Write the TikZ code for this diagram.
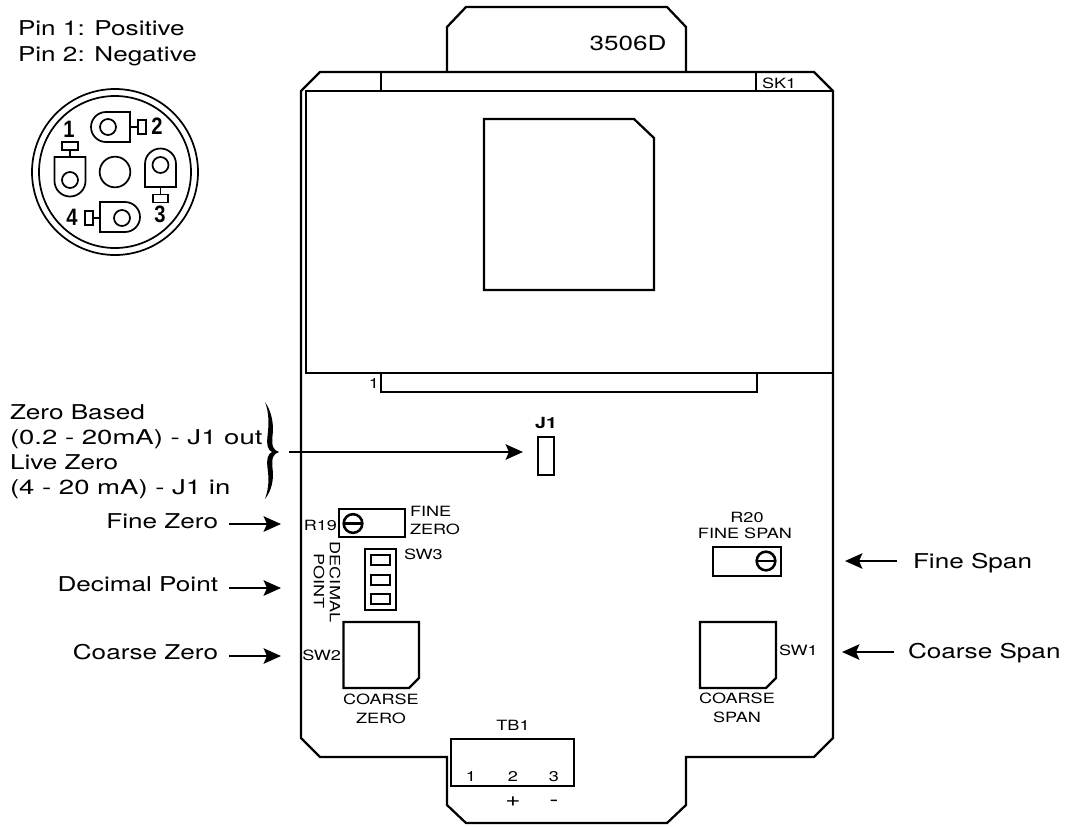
\documentclass[tikz,border=0pt]{standalone}
\usepackage{fontspec}
\setmainfont[FakeStretch=1.28]{TeX Gyre Heros}
\newfontfamily\pinfont[FakeStretch=0.85]{Liberation Sans}
\newfontfamily\widefont[FakeStretch=1.35]{TeX Gyre Heros}
\usetikzlibrary{arrows.meta}
\tikzset{
 every node/.style={inner sep=0pt,outer sep=0pt},
 line/.style={draw=black,line width=1.7pt,line join=miter},
 thick line/.style={draw=black,line width=2pt,line join=miter},
 thin line/.style={draw=black,line width=1.3pt},
 big/.style={font=\fontsize{15.3pt}{17pt}\selectfont},
 wide/.style={font=\widefont\fontsize{15.3pt}{17pt}\selectfont},
 small/.style={font=\fontsize{10.6pt}{12pt}\selectfont},
 pinno/.style={font=\pinfont\fontsize{17.8pt}{18pt}\bfseries\selectfont},
 pointer/.style={draw=black,line width=1.8pt,-{Stealth[length=13pt,width=11.5pt,inset=2.5pt]}},
}
\begin{document}
\begin{tikzpicture}[x=0.75pt,y=-0.75pt]
\useasboundingbox (0,0) rectangle (1066,826);
% tab and board
\draw[line] (447,72) -- (447,27) -- (466,7) -- (667,7) -- (686,27) -- (686,72);
\draw[line] (301,91) -- (320,72) -- (814,72) -- (833,91) -- (833,738) -- (814,757) -- (686,757) -- (686,805) -- (667,823) -- (466,823) -- (447,805) -- (447,757) -- (320,757) -- (301,738) -- cycle;
\draw[thick line] (306,91) rectangle (833,373);
\draw[thick line] (381,72) rectangle (756,91);
\draw[line] (381,373) -- (381,392) -- (757,392) -- (757,373);
\draw[line] (484,119) -- (634,119) -- (654,138) -- (654,290) -- (484,290) -- cycle;
\node[small,anchor=base west] (sk1) at (762,88.5) {SK1};
\node[small,anchor=base] (one) at (374,388) {1};
\node[big,anchor=base] (model) at (628,50) {3506D};
% J1
\node[draw=black,line width=1.7pt,minimum width=12pt,minimum height=28.5pt] (j1) at (546,456) {};
\node[font=\fontsize{11.5pt}{12pt}\bfseries\selectfont,anchor=base] (j1l) at (546,428) {J1};
% R19
\node[draw=black,line width=1.7pt,minimum width=49.5pt,minimum height=21pt] (r19) at (372,523) {};
\node[draw=black,line width=1.9pt,circle,minimum size=14pt] (r19c) at (353,523.5) {};
\draw[line] (r19c.west) -- (r19c.east);
\node[small,anchor=base east] (r19l) at (337,530) {R19};
\node[small,anchor=base west] (fz1) at (410,516) {FINE};
\node[small,anchor=base west] (fz2) at (410,534) {ZERO};
% SW3
\node[draw=black,line width=1.7pt,minimum width=23pt,minimum height=45.5pt] (sw3) at (380.5,579.5) {};
\node[draw=black,line width=1.5pt,minimum width=14pt,minimum height=7.5pt] (s3a) at (380.5,560) {};
\node[draw=black,line width=1.5pt,minimum width=14pt,minimum height=7.5pt] (s3b) at (380.5,579.5) {};
\node[draw=black,line width=1.5pt,minimum width=14pt,minimum height=7.5pt] (s3c) at (380.5,599) {};
\node[small,anchor=base west] (sw3l) at (404,559) {SW3};
\node[small,rotate=-90,anchor=center] (dec1) at (335,582) {DECIMAL};
\node[small,rotate=-90,anchor=center] (dec2) at (319,581) {POINT};
% SW2 SW1
\draw[line] (343.5,622) -- (419,622) -- (419,678) -- (409,688) -- (343.5,688) -- cycle;
\draw[line] (700,622) -- (776,622) -- (776,678) -- (766,688) -- (700,688) -- cycle;
\node[small,anchor=base east] (sw2l) at (341,660) {SW2};
\node[small,anchor=base west] (sw1l) at (779,655) {SW1};
\node[small,anchor=base] (cz1) at (381,704) {COARSE};
\node[small,anchor=base] (cz2) at (381,723) {ZERO};
\node[small,anchor=base] (cs1) at (737,703) {COARSE};
\node[small,anchor=base] (cs2) at (737,722) {SPAN};
% TB1
\node[draw=black,line width=1.7pt,fill=white,minimum width=92pt,minimum height=35pt] (tb1) at (512.5,762.5) {};
\node[small,anchor=base] (tbl) at (513,730) {TB1};
\node[small,anchor=base] (t1) at (471,781) {1};
\node[small,anchor=base] (t2) at (513,781) {2};
\node[small,anchor=base] (t3) at (554,781) {3};
\node[big,anchor=base] (plus) at (513,806) {+};
\node[big,anchor=base] (minus) at (554,806) {-};
% R20
\node[draw=black,line width=1.7pt,minimum width=51pt,minimum height=21.5pt] (r20) at (747,561.5) {};
\node[draw=black,line width=1.9pt,circle,minimum size=14pt] (r20c) at (766,561) {};
\draw[line] (r20c.west) -- (r20c.east);
\node[small,anchor=base] (r20l) at (747,522.5) {R20};
\node[small,anchor=base] (fs) at (745,538.5) {FINE SPAN};
% connector
\node[draw=black,line width=1.3pt,circle,minimum size=124.5pt] (c1) at (115,172) {};
\node[draw=black,line width=1.3pt,circle,minimum size=114pt] (c2) at (115,172) {};
\node[draw=black,line width=1.3pt,circle,minimum size=23pt] (c3) at (115,172) {};
% pin 2
\draw[thin line] (130,112) -- (106,112) arc[start angle=270,end angle=90,radius=15] -- (130,142) -- cycle;
\node[draw=black,line width=1.3pt,circle,minimum size=12pt] (h2) at (108,127) {};
\node[draw=black,line width=1.3pt,minimum width=6pt,minimum height=11pt] (r2) at (142,127) {};
\draw[thin line] (130,127) -- (r2.west);
\node[pinno,anchor=base] (n2) at (157,134) {2};
% pin 1
\draw[thin line] (54.5,157) -- (54.5,181) arc[start angle=180,end angle=0,radius=15.5] -- (85.5,157) -- cycle;
\node[draw=black,line width=1.3pt,circle,minimum size=12pt] (h1) at (70,180) {};
\node[draw=black,line width=1.3pt,minimum width=11.5pt,minimum height=6pt] (r1) at (70,146) {};
\draw[thin line] (70,157) -- (r1.south);
\node[pinno,anchor=base] (n1) at (69,137) {1};
% pin 3
\draw[thin line] (145,187) -- (145,164) arc[start angle=180,end angle=360,radius=15.5] -- (176,187) -- cycle;
\node[draw=black,line width=1.3pt,circle,minimum size=12pt] (h3) at (160.5,165) {};
\node[draw=black,line width=1.3pt,minimum width=11.5pt,minimum height=6pt] (r3) at (160.5,198.5) {};
\draw[thin line] (160.5,187) -- (r3.north);
\node[pinno,anchor=base] (n3) at (160,222) {3};
% pin 4
\draw[thin line] (100,202) -- (125,202) arc[start angle=-90,end angle=90,radius=15] -- (100,232) -- cycle;
\node[draw=black,line width=1.3pt,circle,minimum size=12pt] (h4) at (122,218) {};
\node[draw=black,line width=1.3pt,minimum width=6pt,minimum height=11pt] (r4) at (89,218) {};
\draw[thin line] (100,218) -- (r4.east);
\node[pinno,anchor=base] (n4) at (72,225) {4};
% texts
\node[big,anchor=base west] (p1) at (18,35) {Pin 1: Positive};
\node[big,anchor=base west] (p2) at (18,61) {Pin 2: Negative};
\node[big,anchor=base west] (a1) at (10,419) {Zero Based};
\node[wide,anchor=base west] (a2) at (10,444) {(0.2 - 20mA) - J1 out};
\node[big,anchor=base west] (a3) at (10,469) {Live Zero};
\node[wide,anchor=base west] (a4) at (10,494) {(4 - 20 mA) - J1 in};
\node[big,anchor=base east] (fzt) at (218,528) {Fine Zero};
\node[big,anchor=base east] (dpt) at (218,591) {Decimal Point};
\node[big,anchor=base east] (czt) at (218,659) {Coarse Zero};
\node[big,anchor=base west] (fst) at (913,568) {Fine Span};
\node[big,anchor=base west] (cst) at (908,658) {Coarse Span};
% brace
\fill[black] (265,402) .. controls (272,412) and (274,425) .. (272.5,436) .. controls (271.5,446) and (273,450) .. (279,452) .. controls (273,454) and (271.5,458) .. (272.5,468) .. controls (274,479) and (272,490) .. (265,499) .. controls (269,488) and (269,478) .. (267.5,468) .. controls (266.5,458) and (268,454) .. (272,452) .. controls (268,450) and (266.5,446) .. (267.5,436) .. controls (269,424) and (269,412) .. (265,402) -- cycle;
% pointers
\coordinate (b0) at (289,452);
\coordinate (j1t) at (523,452);
\draw[pointer] (b0) -- (j1t);
\coordinate (z0) at (229,524); \coordinate (z1) at (281,524);
\draw[pointer] (z0) -- (z1);
\coordinate (d0) at (229,588); \coordinate (d1) at (281,588);
\draw[pointer] (d0) -- (d1);
\coordinate (e0) at (229,656); \coordinate (e1) at (281,656);
\draw[pointer] (e0) -- (e1);
\coordinate (f0) at (897,561); \coordinate (f1) at (845,561);
\draw[pointer] (f0) -- (f1);
\coordinate (g0) at (894,652); \coordinate (g1) at (842,652);
\draw[pointer] (g0) -- (g1);
\end{tikzpicture}
\end{document}
